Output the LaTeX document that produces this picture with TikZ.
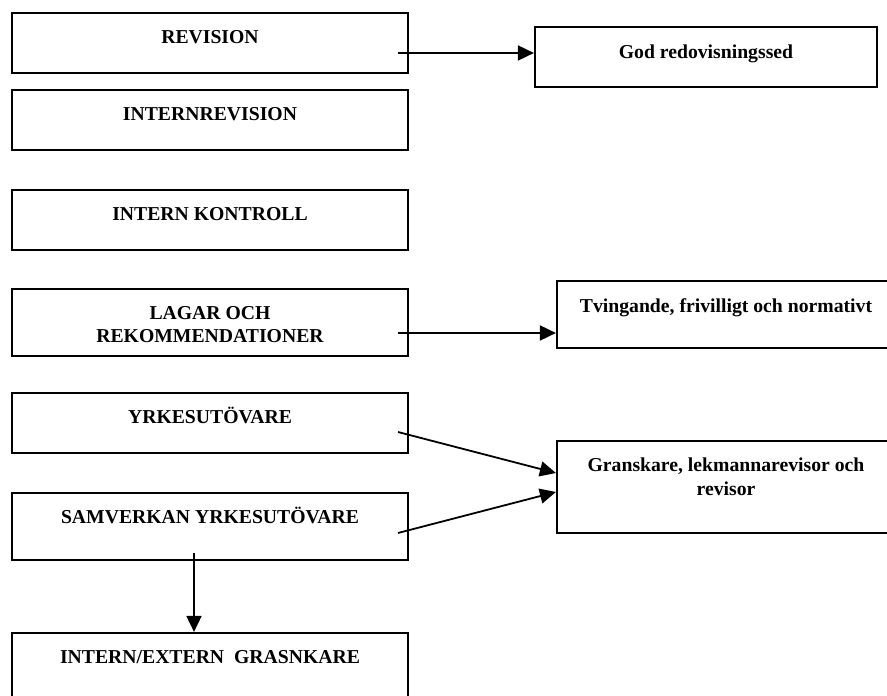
\documentclass[tikz,border=0pt]{standalone}
\usepackage{fontspec}
\setmainfont{Liberation Serif}
\usetikzlibrary{arrows.meta,calc}
\begin{document}
\begin{tikzpicture}[x=1pt,y=-1pt,
  box/.style={draw, line width=2.2pt, rectangle, inner sep=0pt},
  lbl/.style={font=\fontsize{19.7}{23.5}\selectfont\bfseries, inner sep=0pt, anchor=north, align=center},
  lblone/.style={lbl, text height=13.2pt},
  arr/.style={line width=1.8pt, -{Triangle[length=16pt,width=15pt]}}]
\useasboundingbox (0,0) rectangle (887,696);
\fill[white] (0,0) rectangle (887,696);
\clip (0,0) rectangle (887,696);

% left column
\node[box, minimum width=396pt, minimum height=60pt] (b1) at (210,43) {};
\node[lblone] (t1) at ([yshift=-18.5pt]b1.north) {REVISION};
\node[box, minimum width=396pt, minimum height=60pt] (b2) at (210,120) {};
\node[lblone] (t2) at ([yshift=-18.5pt]b2.north) {INTERNREVISION};
\node[box, minimum width=396pt, minimum height=60pt] (b3) at (210,220) {};
\node[lblone] (t3) at ([yshift=-18.5pt]b3.north) {INTERN KONTROLL};
\node[box, minimum width=396pt, minimum height=67pt] (b4) at (210,322.5) {};
\node[lbl] (t4) at ([yshift=-18pt]b4.north) {LAGAR OCH\\REKOMMENDATIONER};
\node[box, minimum width=396pt, minimum height=60pt] (b5) at (210,423) {};
\node[lblone] (t5) at ([yshift=-18.5pt]b5.north) {YRKESUTÖVARE};
\node[box, minimum width=396pt, minimum height=67pt] (b6) at (210,526.5) {};
\node[lblone] (t6) at ([yshift=-18.5pt]b6.north) {SAMVERKAN YRKESUTÖVARE};
\node[box, minimum width=396pt, minimum height=94pt] (b7) at (210,680) {};
\node[lblone] (t7) at ([yshift=-18.5pt]b7.north) {INTERN/EXTERN\ \ GRASNKARE};

% right column
\node[box, minimum width=342pt, minimum height=60pt] (r1) at (706,57) {};
\node[lbl] (u1) at ([yshift=-19pt]r1.north) {God redovisningssed};
\node[box, minimum width=338pt, minimum height=67pt] (r2) at (726,314.5) {};
\node[lbl] (u2) at ([yshift=-19pt]r2.north) {Tvingande, frivilligt och normativt};
\node[box, minimum width=338pt, minimum height=92pt] (r3) at (726,487) {};
\node[lbl] (u3) at ([yshift=-18pt]r3.north) {Granskare, lekmannarevisor och\\revisor};

% connector end points
\coordinate (s1) at (398,53);
\coordinate (s4) at (398,333);
\coordinate (s5) at (398,432);
\coordinate (s6) at (398,533);
\coordinate (s7) at (194,553);
\coordinate (e5) at ($(r3.west)+(0,-14)$);
\coordinate (e6) at ($(r3.west)+(0,5)$);

\draw[arr] (s1) -- (s1 -| r1.west);
\draw[arr] (s4) -- (s4 -| r2.west);
\draw[arr] (s5) -- (e5);
\draw[arr] (s6) -- (e6);
\draw[arr] (s7) -- (s7 |- b7.north);
\end{tikzpicture}
\end{document}
